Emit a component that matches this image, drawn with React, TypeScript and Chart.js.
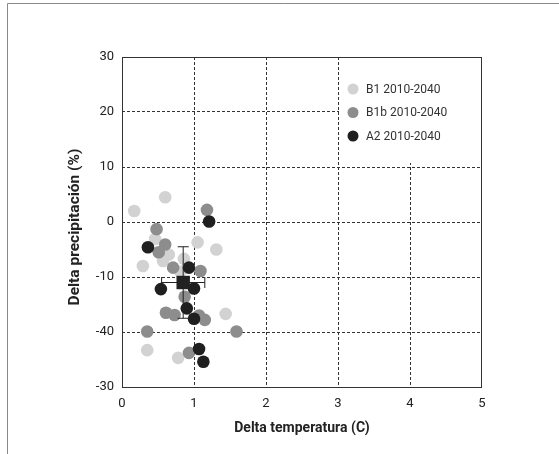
import React, { useEffect, useRef } from 'react';
import { Chart, registerables } from 'chart.js';

Chart.register(...registerables);

// Scenario ensembles: temperature change (C) vs precipitation change (%)
const seriesNames = ['B1 2010-2040', 'B1b 2010-2040', 'A2 2010-2040'];
const seriesColors = ['#d2d2d2', '#8d8d8d', '#1f1f1f'];

const b1Temp = [0.6, 0.17, 0.46, 1.05, 1.31, 0.65, 0.29, 0.57, 0.86, 0.81, 1.44, 0.35, 0.78];
const b1Precip = [4.5, 2.0, -3.1, -3.7, -5.0, -5.9, -8.0, -7.1, -6.7, -9.0, -16.7, -23.3, -24.7];

const b1bTemp = [1.18, 0.48, 0.6, 0.51, 0.71, 1.09, 0.87, 0.61, 0.73, 1.07, 1.15, 0.35, 1.59, 0.93];
const b1bPrecip = [2.2, -1.3, -4.1, -5.5, -8.3, -8.9, -13.6, -16.5, -16.9, -17.0, -17.8, -19.9, -19.9, -23.8];

const a2Temp = [1.21, 0.36, 0.93, 0.54, 1.0, 0.9, 1.0, 1.07, 1.13];
const a2Precip = [0.1, -4.6, -8.3, -12.2, -12.1, -15.7, -17.6, -23.1, -25.4];

// Ensemble mean and its spread
const meanTemp = 0.85;
const meanPrecip = -11.0;
const tempSpread = 0.3;
const precipSpread = 6.5;

const xTickValues = [0, 1, 2, 3, 4, 5];
const yTickValues = [30, 20, 10, 0, -10, -20, -30];
const yTickLabels = ['30', '20', '10', '0', '-10', '-40', '-30'];

const xTitle = 'Delta temperatura (C)';
const yTitle = 'Delta precipitación (%)';

const FONT = "'Roboto', 'Liberation Sans', sans-serif";
const INK = '#222222';

const toPoints = (xs: number[], ys: number[]) => xs.map((x, i) => ({ x, y: ys[i] }));

const decorations = {
  id: 'decorations',
  beforeDatasetsDraw(chart: any) {
    const { ctx, chartArea, scales } = chart;
    const x = scales.x;
    const y = scales.y;
    // white legend panel in the upper right corner
    const left = Math.round(x.getPixelForValue(3)) + 1;
    const top = chartArea.top;
    const bottom = Math.round(y.getPixelForValue(10)) - 4;
    ctx.save();
    ctx.fillStyle = '#ffffff';
    ctx.fillRect(left, top, chartArea.right - left, bottom - top);
    ctx.font = `12px ${FONT}`;
    ctx.textBaseline = 'middle';
    ctx.textAlign = 'left';
    const rowGap = 23.5;
    const markerX = left + 14;
    const firstY = top + 32;
    seriesNames.forEach((name, i) => {
      const cy = firstY + i * rowGap;
      ctx.beginPath();
      ctx.fillStyle = seriesColors[i];
      ctx.arc(markerX, cy, 5.5, 0, Math.PI * 2);
      ctx.fill();
      ctx.fillStyle = '#333333';
      ctx.fillText(name, markerX + 13, cy + 0.5);
    });
    ctx.restore();
  },
  afterDatasetsDraw(chart: any) {
    const { ctx, scales } = chart;
    const x = scales.x;
    const y = scales.y;
    const cx = x.getPixelForValue(meanTemp);
    const cy = y.getPixelForValue(meanPrecip);
    const x0 = x.getPixelForValue(meanTemp - tempSpread);
    const x1 = x.getPixelForValue(meanTemp + tempSpread);
    const y0 = y.getPixelForValue(meanPrecip + precipSpread);
    const y1 = y.getPixelForValue(meanPrecip - precipSpread);
    const cap = 5.5;
    ctx.save();
    ctx.strokeStyle = INK;
    ctx.lineWidth = 1;
    ctx.beginPath();
    ctx.moveTo(x0, cy); ctx.lineTo(x1, cy);
    ctx.moveTo(x0, cy - cap); ctx.lineTo(x0, cy + cap);
    ctx.moveTo(x1, cy - cap); ctx.lineTo(x1, cy + cap);
    ctx.moveTo(cx, y0); ctx.lineTo(cx, y1);
    ctx.moveTo(cx - cap, y0); ctx.lineTo(cx + cap, y0);
    ctx.moveTo(cx - cap, y1); ctx.lineTo(cx + cap, y1);
    ctx.stroke();
    ctx.restore();
  },
  afterDraw(chart: any) {
    const { ctx, chartArea, width, height } = chart;
    ctx.save();
    // plot frame
    ctx.strokeStyle = '#333333';
    ctx.lineWidth = 1;
    ctx.strokeRect(chartArea.left + 0.5, chartArea.top + 0.5,
      chartArea.right - chartArea.left - 1, chartArea.bottom - chartArea.top);
    // outer frame
    ctx.strokeStyle = '#8a8a8a';
    ctx.beginPath();
    ctx.moveTo(7.5, height);
    ctx.lineTo(7.5, 3.5);
    ctx.lineTo(width, 3.5);
    ctx.stroke();
    // vertical axis title
    ctx.fillStyle = INK;
    ctx.font = `bold 15.5px ${FONT}`;
    ctx.textAlign = 'center';
    ctx.textBaseline = 'middle';
    ctx.translate(75, 227);
    ctx.rotate(-Math.PI / 2);
    ctx.fillText(yTitle, 0, 0);
    ctx.restore();
  },
};

export default function App() {
  const canvasRef = useRef<HTMLCanvasElement | null>(null);

  useEffect(() => {
    if (!canvasRef.current) return;
    const edgeColor = (ctx: any, values: number[]) => {
      const v = ctx.tick ? ctx.tick.value : null;
      return v === values[0] || v === values[values.length - 1] ? 'rgba(0,0,0,0)' : '#333333';
    };
    const chart = new Chart(canvasRef.current, {
      type: 'scatter',
      data: {
        datasets: [
          {
            label: 'Media',
            data: [{ x: meanTemp, y: meanPrecip }],
            pointStyle: 'rect',
            pointRadius: 9.5,
            backgroundColor: INK,
            borderWidth: 0,
            order: 0,
          },
          {
            label: seriesNames[2],
            data: toPoints(a2Temp, a2Precip),
            backgroundColor: seriesColors[2],
            pointRadius: 6.3,
            borderWidth: 0,
            order: 1,
          },
          {
            label: seriesNames[1],
            data: toPoints(b1bTemp, b1bPrecip),
            backgroundColor: seriesColors[1],
            pointRadius: 6.3,
            borderWidth: 0,
            order: 2,
          },
          {
            label: seriesNames[0],
            data: toPoints(b1Temp, b1Precip),
            backgroundColor: seriesColors[0],
            pointRadius: 6.3,
            borderWidth: 0,
            order: 3,
          },
        ],
      },
      options: {
        animation: false,
        responsive: true,
        maintainAspectRatio: false,
        events: [],
        layout: { padding: { left: 62, right: 77, top: 57, bottom: 17 } },
        plugins: {
          legend: { display: false },
          tooltip: { enabled: false },
        },
        scales: {
          x: {
            type: 'linear',
            min: xTickValues[0],
            max: xTickValues[xTickValues.length - 1],
            afterBuildTicks: (s: any) => { s.ticks = xTickValues.map((v) => ({ value: v })); },
            afterFit: (s: any) => { s.height = 50; },
            border: { display: false, dash: [3, 2] },
            grid: {
              drawTicks: false,
              color: (c: any) => edgeColor(c, xTickValues),
              lineWidth: 1,
            },
            ticks: {
              padding: 9,
              color: INK,
              font: { family: FONT, size: 13 },
              callback: (v: any) => String(v),
            },
            title: {
              display: true,
              text: xTitle,
              color: INK,
              font: { family: FONT, size: 14, weight: 'bold' },
              padding: { top: 0, bottom: 0 },
            },
          },
          y: {
            type: 'linear',
            min: yTickValues[yTickValues.length - 1],
            max: yTickValues[0],
            afterBuildTicks: (s: any) => { s.ticks = [...yTickValues].reverse().map((v) => ({ value: v })); },
            afterFit: (s: any) => { s.width = 60; },
            border: { display: false, dash: [3, 2] },
            grid: {
              drawTicks: false,
              color: (c: any) => edgeColor(c, yTickValues),
              lineWidth: 1,
            },
            ticks: {
              padding: 8,
              color: INK,
              font: { family: FONT, size: 13 },
              callback: (v: any) => {
                const i = yTickValues.indexOf(Number(v));
                return i >= 0 ? yTickLabels[i] : '';
              },
            },
          },
        },
      },
      plugins: [decorations],
    });
    return () => chart.destroy();
  }, []);

  return (
    <div style={{ position: 'absolute', left: 0, top: 0, width: 559, height: 454, background: '#ffffff' }}>
      <canvas ref={canvasRef} />
    </div>
  );
}
